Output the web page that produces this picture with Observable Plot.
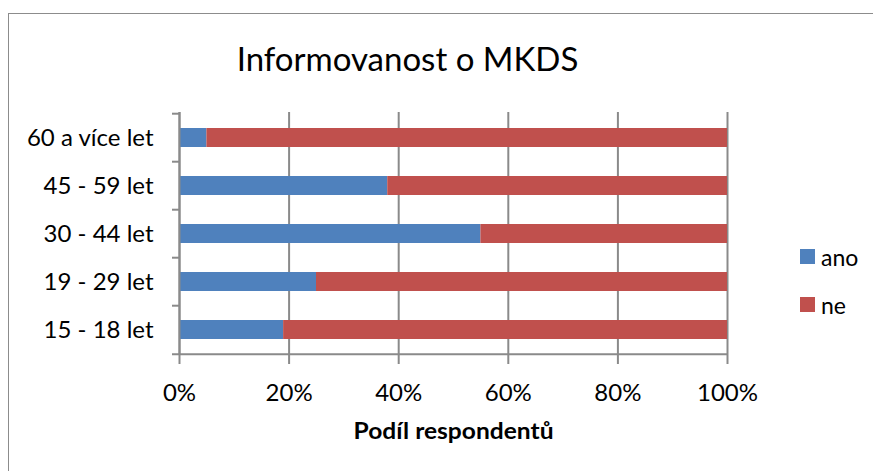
<!DOCTYPE html>
<html>
<head>
<meta charset="utf-8">
<script src="https://cdn.jsdelivr.net/npm/d3@7"></script>
<script src="https://cdn.jsdelivr.net/npm/@observablehq/plot@0.6"></script>
<style>
  html, body { margin: 0; padding: 0; background: #fff; }
  #wrap { position: relative; width: 873px; height: 471px; overflow: hidden; font-family: Lato, "Noto Sans", sans-serif; color: #000; }
  #frame { position: absolute; left: 8px; top: 13px; width: 900px; height: 500px; border: 1.5px solid #8c8c8c; box-sizing: border-box; }
  #title { position: absolute; left: 0; width: 815px; top: 38px; text-align: center; font-size: 33px; line-height: 40px; }
  .leg { position: absolute; left: 800px; font-size: 23px; line-height: 24px; }
  .leg span.sw { position: absolute; left: 0; top: 4px; width: 15px; height: 15px; }
  .leg span.lb { position: absolute; left: 21px; top: 0; white-space: nowrap; }
  #chart { position: absolute; left: 0; top: 0; }
</style>
</head>
<body>
<div id="wrap">
  <div id="frame"></div>
  <div id="chart"></div>
  <div id="title">Informovanost o MKDS</div>
  <div id="legend"></div>
</div>
<script>
const titleText = "Informovanost o MKDS";
const xLabel = "Podíl respondentů";
const ageGroups = ["60 a více let", "45 - 59 let", "30 - 44 let", "19 - 29 let", "15 - 18 let"];
const seriesNames = ["ano", "ne"];
const anoValues = [0.05, 0.38, 0.55, 0.25, 0.19];
const neValues = [0.95, 0.62, 0.45, 0.75, 0.81];
const xTicks = [0, 0.2, 0.4, 0.6, 0.8, 1.0];
const colors = ["#4F81BD", "#C0504D"];

const rows = [];
ageGroups.forEach((g, i) => {
  rows.push({age: g, resp: "ano", value: anoValues[i]});
  rows.push({age: g, resp: "ne", value: neValues[i]});
});

const W = 873, H = 471;
const mTop = 112, mBottom = H - 355, mLeft = 179, mRight = W - 727;
const step = (H - mTop - mBottom) / ageGroups.length;
const tickLen = 7 / (W - mLeft - mRight);

const chart = Plot.plot({
  width: W,
  height: H,
  marginTop: mTop,
  marginBottom: mBottom,
  marginLeft: mLeft,
  marginRight: mRight,
  style: {fontFamily: "Lato, 'Noto Sans', sans-serif", background: "transparent", color: "#000"},
  x: {domain: [0, 1]},
  y: {domain: ageGroups, paddingInner: 0.6, paddingOuter: 0.3},
  color: {domain: seriesNames, range: colors},
  marks: [
    Plot.ruleX(xTicks, {x: d => d, stroke: "#8a8a8a", strokeWidth: 2}),
    Plot.barX(rows, Plot.stackX({x: "value", y: "age", fill: "resp", order: null})),
    Plot.ruleX([0], {stroke: "#8a8a8a", strokeWidth: 2}),
    Plot.ruleY(ageGroups, {y: d => d, x1: -tickLen, x2: 0, dy: -step / 2, stroke: "#8a8a8a", strokeWidth: 2, clip: false}),
    Plot.ruleY(ageGroups.slice(-1), {y: d => d, x1: -tickLen, x2: 1, dy: step / 2, stroke: "#8a8a8a", strokeWidth: 2}),
    Plot.axisX(xTicks, {tickSize: 9, stroke: "#8a8a8a", strokeWidth: 2, tickPadding: 19, fontSize: 24, tickFormat: d => Math.round(d * 100) + "%", label: null}),
    Plot.axisY({tickSize: 0, tickPadding: 26, fontSize: 24, label: null}),
    Plot.text([xLabel], {frameAnchor: "bottom", dy: 83, fontSize: 22, fontWeight: "bold", text: d => d, className: "xlabel"})
  ]
});
d3.select(chart).selectAll(".xlabel text")
  .attr("textLength", 200).attr("lengthAdjust", "spacingAndGlyphs");
document.getElementById("chart").appendChild(chart);
document.getElementById("title").textContent = titleText;

const legend = document.getElementById("legend");
seriesNames.forEach((s, i) => {
  const d = document.createElement("div");
  d.className = "leg";
  d.style.top = (245 + i * 48) + "px";
  d.innerHTML = `<span class="sw" style="background:${colors[i]}"></span><span class="lb">${s}</span>`;
  legend.appendChild(d);
});
</script>
</body>
</html>
